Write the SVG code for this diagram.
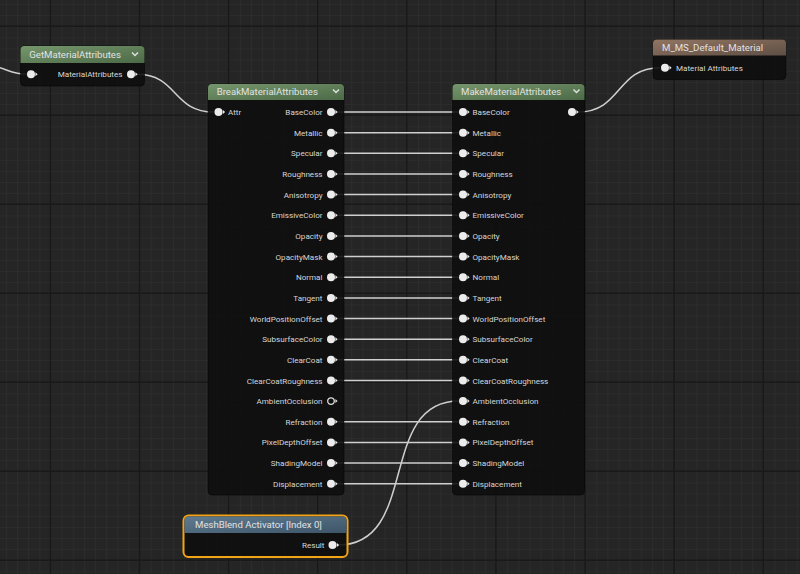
<svg xmlns="http://www.w3.org/2000/svg" xmlns:xlink="http://www.w3.org/1999/xlink" width="800" height="574" viewBox="0 0 800 574">
<defs>
<pattern id="minor" patternUnits="userSpaceOnUse" x="50.5" y="26.3" width="11.1375" height="11.125">
<rect width="11.1375" height="11.125" fill="#252525"/>
<path d="M0.5,0V11.125M0,0.5H11.1375" stroke="#2c2c2c" stroke-width="1" fill="none"/>
</pattern>
<linearGradient id="gGreen" x1="0" y1="0" x2="1" y2="1">
<stop offset="0" stop-color="#76966d"/>
<stop offset="1" stop-color="#4b6a46"/>
</linearGradient>
<linearGradient id="gBrown" x1="0" y1="0" x2="1" y2="1">
<stop offset="0" stop-color="#927562"/>
<stop offset="1" stop-color="#5e4f45"/>
</linearGradient>
<linearGradient id="gBlue" x1="0" y1="0" x2="1" y2="1">
<stop offset="0" stop-color="#5f7b91"/>
<stop offset="1" stop-color="#3e5568"/>
</linearGradient>
<g id="pin">
<circle r="4" fill="#ececec"/>
<path d="M4.4,-2L6.6,0L4.4,2Z" fill="#ececec"/>
</g>
<g id="pinOpen">
<circle r="3.3" fill="none" stroke="#e0e0e0" stroke-width="1.3"/>
<path d="M4.4,-2L6.6,0L4.4,2Z" fill="#e0e0e0"/>
</g>
</defs>
<style>
.body{fill:#0e0e0e;fill-opacity:0.9;stroke:#000;stroke-opacity:0.5;stroke-width:1}
.sel{fill:#0e0e0e;fill-opacity:0.9;stroke:#f2a316;stroke-width:2}
.title{font-family:Roboto,"Liberation Sans",sans-serif;font-size:9.6px;fill:#e2e2e2}
.lbl{font-family:Roboto,"Liberation Sans",sans-serif;font-size:8.1px;fill:#d6d6d6}
.r{text-anchor:end}
.wire{fill:none;stroke:#cfcfcf;stroke-width:1.5}
.chev{fill:none;stroke:#e0e0e0;stroke-width:1.5}
.major{stroke:#191919;stroke-width:1.5}
</style>
<rect width="800" height="574" fill="url(#minor)"/>
<g id="grid-major" class="major">
<line x1="50.5" y1="0" x2="50.5" y2="574"/>
<line x1="139.6" y1="0" x2="139.6" y2="574"/>
<line x1="228.7" y1="0" x2="228.7" y2="574"/>
<line x1="317.8" y1="0" x2="317.8" y2="574"/>
<line x1="406.9" y1="0" x2="406.9" y2="574"/>
<line x1="496" y1="0" x2="496" y2="574"/>
<line x1="585.1" y1="0" x2="585.1" y2="574"/>
<line x1="674.2" y1="0" x2="674.2" y2="574"/>
<line x1="763.3" y1="0" x2="763.3" y2="574"/>
<line x1="0" y1="26.3" x2="800" y2="26.3"/>
<line x1="0" y1="115.3" x2="800" y2="115.3"/>
<line x1="0" y1="204.3" x2="800" y2="204.3"/>
<line x1="0" y1="293.3" x2="800" y2="293.3"/>
<line x1="0" y1="382.3" x2="800" y2="382.3"/>
<line x1="0" y1="471.3" x2="800" y2="471.3"/>
<line x1="0" y1="560.3" x2="800" y2="560.3"/>
</g>
<g id="connectors">
<path class="wire" d="M-30,62 C5,65 8,74.3 27,74.3"/>
<path class="wire" d="M137,74.3 C178,74.3 172,112 214,112"/>
<path class="wire" d="M578,112 C622,112 616,67.7 660,67.7"/>
<path class="wire" d="M338,545 C420,545 377,401.1 459,401.1"/>
<g class="straight">
<line class="wire" x1="337" y1="112" x2="459" y2="112"/>
<line class="wire" x1="337" y1="132.7" x2="459" y2="132.7"/>
<line class="wire" x1="337" y1="153.3" x2="459" y2="153.3"/>
<line class="wire" x1="337" y1="174" x2="459" y2="174"/>
<line class="wire" x1="337" y1="194.6" x2="459" y2="194.6"/>
<line class="wire" x1="337" y1="215.3" x2="459" y2="215.3"/>
<line class="wire" x1="337" y1="235.9" x2="459" y2="235.9"/>
<line class="wire" x1="337" y1="256.6" x2="459" y2="256.6"/>
<line class="wire" x1="337" y1="277.2" x2="459" y2="277.2"/>
<line class="wire" x1="337" y1="297.9" x2="459" y2="297.9"/>
<line class="wire" x1="337" y1="318.5" x2="459" y2="318.5"/>
<line class="wire" x1="337" y1="339.2" x2="459" y2="339.2"/>
<line class="wire" x1="337" y1="359.8" x2="459" y2="359.8"/>
<line class="wire" x1="337" y1="380.5" x2="459" y2="380.5"/>
<line class="wire" x1="337" y1="421.8" x2="459" y2="421.8"/>
<line class="wire" x1="337" y1="442.4" x2="459" y2="442.4"/>
<line class="wire" x1="337" y1="463.1" x2="459" y2="463.1"/>
<line class="wire" x1="337" y1="483.7" x2="459" y2="483.7"/>
</g>
</g>
<g id="node-get">
<rect class="body" x="20.5" y="46" width="124" height="40" rx="4"/>
<path d="M20.5,63 V50 a4,4 0 0 1 4,-4 H140.5 a4,4 0 0 1 4,4 V63 Z" fill="url(#gGreen)"/>
<text class="title" x="29.3" y="58">GetMaterialAttributes</text>
<polyline class="chev" points="132,52.5 135,55.5 138,52.5"/>
<use xlink:href="#pin" x="31" y="74.3"/>
<text class="lbl r" x="122.5" y="77.3">MaterialAttributes</text>
<use xlink:href="#pin" x="131" y="74.3"/>
</g>
<g id="node-break">
<rect class="body" x="208" y="84" width="136" height="411" rx="4"/>
<path d="M208,100 V88 a4,4 0 0 1 4,-4 H340 a4,4 0 0 1 4,4 V100 Z" fill="url(#gGreen)"/>
<text class="title" x="216.7" y="95.3">BreakMaterialAttributes</text>
<polyline class="chev" points="333,89.5 336,92.5 339,89.5"/>
<use xlink:href="#pin" x="218.5" y="112"/>
<text class="lbl" x="228" y="115">Attr</text>
<g class="lbl r">
<text x="322.5" y="115">BaseColor</text>
<text x="322.5" y="135.7">Metallic</text>
<text x="322.5" y="156.3">Specular</text>
<text x="322.5" y="177">Roughness</text>
<text x="322.5" y="197.6">Anisotropy</text>
<text x="322.5" y="218.3">EmissiveColor</text>
<text x="322.5" y="238.9">Opacity</text>
<text x="322.5" y="259.6">OpacityMask</text>
<text x="322.5" y="280.2">Normal</text>
<text x="322.5" y="300.9">Tangent</text>
<text x="322.5" y="321.5">WorldPositionOffset</text>
<text x="322.5" y="342.2">SubsurfaceColor</text>
<text x="322.5" y="362.8">ClearCoat</text>
<text x="322.5" y="383.5">ClearCoatRoughness</text>
<text x="322.5" y="404.1">AmbientOcclusion</text>
<text x="322.5" y="424.8">Refraction</text>
<text x="322.5" y="445.4">PixelDepthOffset</text>
<text x="322.5" y="466.1">ShadingModel</text>
<text x="322.5" y="486.7">Displacement</text>
</g>
<use xlink:href="#pin" x="331" y="112"/>
<use xlink:href="#pin" x="331" y="132.7"/>
<use xlink:href="#pin" x="331" y="153.3"/>
<use xlink:href="#pin" x="331" y="174"/>
<use xlink:href="#pin" x="331" y="194.6"/>
<use xlink:href="#pin" x="331" y="215.3"/>
<use xlink:href="#pin" x="331" y="235.9"/>
<use xlink:href="#pin" x="331" y="256.6"/>
<use xlink:href="#pin" x="331" y="277.2"/>
<use xlink:href="#pin" x="331" y="297.9"/>
<use xlink:href="#pin" x="331" y="318.5"/>
<use xlink:href="#pin" x="331" y="339.2"/>
<use xlink:href="#pin" x="331" y="359.8"/>
<use xlink:href="#pin" x="331" y="380.5"/>
<use xlink:href="#pinOpen" x="331" y="401.1"/>
<use xlink:href="#pin" x="331" y="421.8"/>
<use xlink:href="#pin" x="331" y="442.4"/>
<use xlink:href="#pin" x="331" y="463.1"/>
<use xlink:href="#pin" x="331" y="483.7"/>
</g>
<g id="node-make">
<rect class="body" x="452.5" y="84" width="132" height="411" rx="4"/>
<path d="M452.5,100 V88 a4,4 0 0 1 4,-4 H580.5 a4,4 0 0 1 4,4 V100 Z" fill="url(#gGreen)"/>
<text class="title" x="461" y="95.3">MakeMaterialAttributes</text>
<polyline class="chev" points="573.5,89.5 576.5,92.5 579.5,89.5"/>
<use xlink:href="#pin" x="572" y="112"/>
<g class="lbl">
<text x="472.5" y="115">BaseColor</text>
<text x="472.5" y="135.7">Metallic</text>
<text x="472.5" y="156.3">Specular</text>
<text x="472.5" y="177">Roughness</text>
<text x="472.5" y="197.6">Anisotropy</text>
<text x="472.5" y="218.3">EmissiveColor</text>
<text x="472.5" y="238.9">Opacity</text>
<text x="472.5" y="259.6">OpacityMask</text>
<text x="472.5" y="280.2">Normal</text>
<text x="472.5" y="300.9">Tangent</text>
<text x="472.5" y="321.5">WorldPositionOffset</text>
<text x="472.5" y="342.2">SubsurfaceColor</text>
<text x="472.5" y="362.8">ClearCoat</text>
<text x="472.5" y="383.5">ClearCoatRoughness</text>
<text x="472.5" y="404.1">AmbientOcclusion</text>
<text x="472.5" y="424.8">Refraction</text>
<text x="472.5" y="445.4">PixelDepthOffset</text>
<text x="472.5" y="466.1">ShadingModel</text>
<text x="472.5" y="486.7">Displacement</text>
</g>
<use xlink:href="#pin" x="463" y="112"/>
<use xlink:href="#pin" x="463" y="132.7"/>
<use xlink:href="#pin" x="463" y="153.3"/>
<use xlink:href="#pin" x="463" y="174"/>
<use xlink:href="#pin" x="463" y="194.6"/>
<use xlink:href="#pin" x="463" y="215.3"/>
<use xlink:href="#pin" x="463" y="235.9"/>
<use xlink:href="#pin" x="463" y="256.6"/>
<use xlink:href="#pin" x="463" y="277.2"/>
<use xlink:href="#pin" x="463" y="297.9"/>
<use xlink:href="#pin" x="463" y="318.5"/>
<use xlink:href="#pin" x="463" y="339.2"/>
<use xlink:href="#pin" x="463" y="359.8"/>
<use xlink:href="#pin" x="463" y="380.5"/>
<use xlink:href="#pin" x="463" y="401.1"/>
<use xlink:href="#pin" x="463" y="421.8"/>
<use xlink:href="#pin" x="463" y="442.4"/>
<use xlink:href="#pin" x="463" y="463.1"/>
<use xlink:href="#pin" x="463" y="483.7"/>
</g>
<g id="node-material">
<rect class="body" x="653" y="39.5" width="133" height="40" rx="4"/>
<path d="M653,55.5 V43.5 a4,4 0 0 1 4,-4 H782 a4,4 0 0 1 4,4 V55.5 Z" fill="url(#gBrown)"/>
<text class="title" x="662" y="50.5">M_MS_Default_Material</text>
<use xlink:href="#pin" x="665" y="67.7"/>
<text class="lbl" x="676" y="70.7">Material Attributes</text>
</g>
<g id="node-meshblend">
<rect class="sel" x="183.5" y="515.5" width="164" height="41.5" rx="5"/>
<path d="M184.5,533 V520.5 a4,4 0 0 1 4,-4 H342.5 a4,4 0 0 1 4,4 V533 Z" fill="url(#gBlue)"/>
<text class="title" x="195" y="528">MeshBlend Activator [Index 0]</text>
<text class="lbl r" x="324.5" y="548">Result</text>
<use xlink:href="#pin" x="332.5" y="545"/>
</g>
</svg>
